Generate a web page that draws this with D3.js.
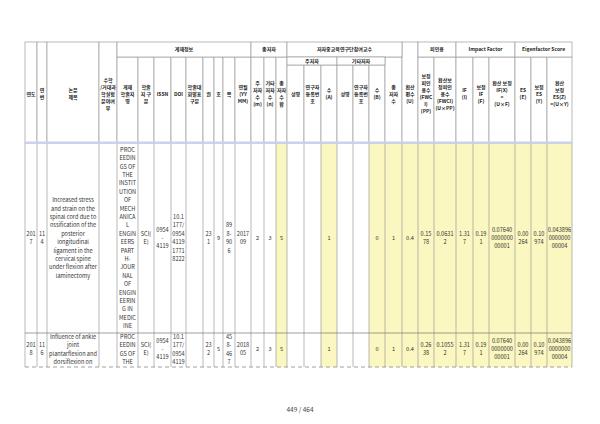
<!DOCTYPE html>
<html>
<head>
<meta charset="utf-8">
<script src="https://cdn.jsdelivr.net/npm/d3@7"></script>
<style>
body { margin: 0; background: #fff; }
text { font-family: "Noto Sans CJK KR", "Noto Sans", sans-serif; fill: #333; }
.head text { font-weight: bold; font-size: 5px; fill: #222; }
.body text { font-size: 5.6px; }
</style>
</head>
<body>
<div id="mainDiv"></div>
<script>
// ---- header labels ----
const headLabels = ["연도", "연\n번", "논문\n제목", "수학\n/거대과\n학실험\n분야여\n부", "게재\n학술지\n명",
	"학술\n지 구\n분", "ISSN", "DOI", "학술대\n회발표\n구분", "권", "호", "쪽", "연월\n(YY\nMM)",
	"주\n저자\n수\n(m)", "기타\n저자\n수\n(n)", "총\n저자\n수\n합",
	"성명", "연구자\n등록번\n호", "수\n(A)", "성명", "연구자\n등록번\n호", "수\n(B)", "총\n저자\n수",
	"환산\n편수\n(U)", "보정\n피인\n용수\n(FWC\nI)\n(PP)", "환산보\n정피인\n용수\n(FWCI)\n(U×PP)",
	"IF\n(I)", "보정\nIF\n(F)", "환산 보정\nIF(X)\n=\n(U×F)",
	"ES\n(E)", "보정\nES\n(Y)", "환산\n보정\nES(Z)\n=(U×Y)"];

// group headers: [label, first col, last col]
const groups = [["게재정보", 4, 12], ["총저자", 13, 15], ["저자중교육연구단참여교수", 16, 22],
	["피인용", 24, 25], ["Impact Factor", 26, 28], ["Eigenfactor Score", 29, 31]];
const subGroups = [["주저자", 16, 18], ["기타저자", 19, 21]];

// ---- row values (as wrapped in the cells; row 2 is cut by the page) ----
const years        = ["201\n7", "201\n8"];
const serials      = ["11\n4", "11\n6"];
const titles       = ["Increased stress\nand strain on the\nspinal cord due to\nossification of the\nposterior\nlongitudinal\nligament in the\ncervical spine\nunder flexion after\nlaminectomy",
                      "Influence of ankle\njoint\nplantarflexion and\ndorsiflexion on"];
const mathFlags    = ["", ""];
const journals     = ["PROC\nEEDIN\nGS OF\nTHE\nINSTIT\nUTION\nOF\nMECH\nANICA\nL\nENGIN\nEERS\nPART\nH-\nJOUR\nNAL\nOF\nENGIN\nEERIN\nG IN\nMEDIC\nINE",
                      "PROC\nEEDIN\nGS OF\nTHE"];
const categories   = ["SCI(\nE)", "SCI(\nE)"];
const issns        = ["0954\n-\n4119", "0954\n-\n4119"];
const dois         = ["10.1\n177/\n0954\n4119\n1771\n8222", "10.1\n177/\n0954\n4119"];
const confFlags    = ["", ""];
const volumes      = ["23\n1", "23\n2"];
const issues       = ["9", "5"];
const pages        = ["89\n8-\n90\n6", "45\n8-\n46\n7"];
const yearMonths   = ["2017\n09", "2018\n05"];
const mainAuthors  = ["2", "2"];
const otherAuthors = ["3", "3"];
const totalAuthors = ["5", "5"];
const mainNames    = ["", ""];
const mainIds      = ["", ""];
const mainFaculty  = ["1", "1"];
const otherNames   = ["", ""];
const otherIds     = ["", ""];
const otherFaculty = ["0", "0"];
const facultyTotal = ["1", "1"];
const convCounts   = ["0.4", "0.4"];
const fwci         = ["0.15\n78", "0.26\n38"];
const convFwci     = ["0.0631\n2", "0.1055\n2"];
const impactFactor = ["1.31\n7", "1.31\n7"];
const adjIF        = ["0.19\n1", "0.19\n1"];
const convIF       = ["0.07640\n0000000\n00001", "0.07640\n0000000\n00001"];
const esValues     = ["0.00\n264", "0.00\n264"];
const adjES        = ["0.10\n974", "0.10\n974"];
const convES       = ["0.043896\n0000000\n00004", "0.043896\n0000000\n00004"];

const columns = [years, serials, titles, mathFlags, journals, categories, issns, dois, confFlags,
	volumes, issues, pages, yearMonths, mainAuthors, otherAuthors, totalAuthors,
	mainNames, mainIds, mainFaculty, otherNames, otherIds, otherFaculty, facultyTotal,
	convCounts, fwci, convFwci, impactFactor, adjIF, convIF, esValues, adjES, convES];

// yellow (computed) columns
const yellowCols = [15, 18, 21, 22, 23, 24, 25, 26, 27, 28, 29, 30, 31];

// ---- layout ----
let width = 600, height = 424;
const colEdges = [25, 37, 47, 99, 117, 138, 154, 171, 186, 203, 214, 223, 235, 251, 264, 276, 287,
	304, 321, 337, 353, 369, 385, 402, 418, 434, 456, 473, 489, 515, 531, 547, 572];
const headTop = 42, groupBottom = 57, subBottom = 65, headBottom = 143;
const rowEdges = [143, 333, 367];
const lineColor = "#9c9c9c";

let x = i => colEdges[i],
	w = i => colEdges[i + 1] - colEdges[i],
	cx = i => (colEdges[i] + colEdges[i + 1]) / 2;

// top of each header leaf cell
function headCellTop(i) {
	if (subGroups.some(s => i >= s[1] && i <= s[2])) return subBottom;
	if (groups.some(g => i >= g[1] && i <= g[2])) return groupBottom;
	return headTop;
}

let svg = d3.select("#mainDiv").append("svg")
	.attr("width", width)
	.attr("height", height);

svg.append("defs").append("clipPath").attr("id", "pageClip")
	.append("rect").attr("x", 0).attr("y", 0).attr("width", width).attr("height", rowEdges[2]);

// write multi-line text centred on (px, firstY)
function multiText(g, str, px, firstY, lh, size) {
	let lines = str.split("\n");
	let t = g.append("text").attr("text-anchor", "middle");
	lines.forEach((l, k) => {
		t.append("tspan").attr("x", px).attr("y", firstY + k * lh + size * 0.36).text(l);
	});
}

// ---- body ----
let body = svg.append("g").attr("class", "body").attr("clip-path", "url(#pageClip)");

columns.forEach((col, i) => {
	col.forEach((v, r) => {
		body.append("rect")
			.attr("x", x(i)).attr("y", rowEdges[r])
			.attr("width", w(i)).attr("height", rowEdges[r + 1] - rowEdges[r])
			.attr("fill", yellowCols.includes(i) ? "#fbf7c1" : "#fff");
	});
});

const lh = 8.4, bodySize = 5.6;
columns.forEach((col, i) => {
	col.forEach((v, r) => {
		if (!v) return;
		let n = v.split("\n").length;
		let first;
		if (r === 0) first = (rowEdges[0] + rowEdges[1]) / 2 - (n - 1) * lh / 2;
		else first = Math.max(rowEdges[1] + 4, 349 - (n - 1) * lh / 2);
		multiText(body, v, cx(i), first, lh, bodySize);
	});
});

// body grid
body.selectAll(".vline").data(colEdges).enter().append("line")
	.attr("x1", d => d).attr("x2", d => d)
	.attr("y1", headBottom).attr("y2", rowEdges[2])
	.attr("stroke", lineColor).attr("stroke-width", 0.7);

svg.append("line")
	.attr("x1", colEdges[0]).attr("x2", colEdges[32])
	.attr("y1", rowEdges[1]).attr("y2", rowEdges[1])
	.attr("stroke", "#777").attr("stroke-width", 0.7);

svg.append("line")
	.attr("x1", colEdges[0]).attr("x2", colEdges[32])
	.attr("y1", rowEdges[2]).attr("y2", rowEdges[2])
	.attr("stroke", "#888").attr("stroke-width", 0.8)
	.attr("stroke-dasharray", "4,3");

// ---- header ----
let head = svg.append("g").attr("class", "head");

headLabels.forEach((lab, i) => {
	let top = headCellTop(i);
	head.append("rect")
		.attr("x", x(i)).attr("y", top)
		.attr("width", w(i)).attr("height", headBottom - top)
		.attr("fill", "#fff").attr("stroke", lineColor).attr("stroke-width", 0.7);
	let n = lab.split("\n").length;
	multiText(head, lab, cx(i), 94 - (n - 1) * 7 / 2, 7, 5);
});

groups.forEach(gp => {
	let x0 = x(gp[1]), x1 = colEdges[gp[2] + 1];
	head.append("rect")
		.attr("x", x0).attr("y", headTop)
		.attr("width", x1 - x0).attr("height", groupBottom - headTop)
		.attr("fill", "#fff").attr("stroke", lineColor).attr("stroke-width", 0.7);
	multiText(head, gp[0], (x0 + x1) / 2, (headTop + groupBottom) / 2, 7, 5);
});

subGroups.forEach(sg => {
	let x0 = x(sg[1]), x1 = colEdges[sg[2] + 1];
	head.append("rect")
		.attr("x", x0).attr("y", groupBottom)
		.attr("width", x1 - x0).attr("height", subBottom - groupBottom)
		.attr("fill", "#fff").attr("stroke", lineColor).attr("stroke-width", 0.7);
	multiText(head, sg[0], (x0 + x1) / 2, (groupBottom + subBottom) / 2, 7, 5);
});

// light blue band under the header
svg.append("rect")
	.attr("x", colEdges[0]).attr("y", headBottom - 1.5)
	.attr("width", colEdges[32] - colEdges[0]).attr("height", 2.2)
	.attr("fill", "#c9d0f0");

// page number
svg.append("text")
	.attr("x", width / 2).attr("y", 412)
	.attr("text-anchor", "middle")
	.style("font-size", "6.5px").style("fill", "#444")
	.text("449 / 464");
</script>
</body>
</html>
